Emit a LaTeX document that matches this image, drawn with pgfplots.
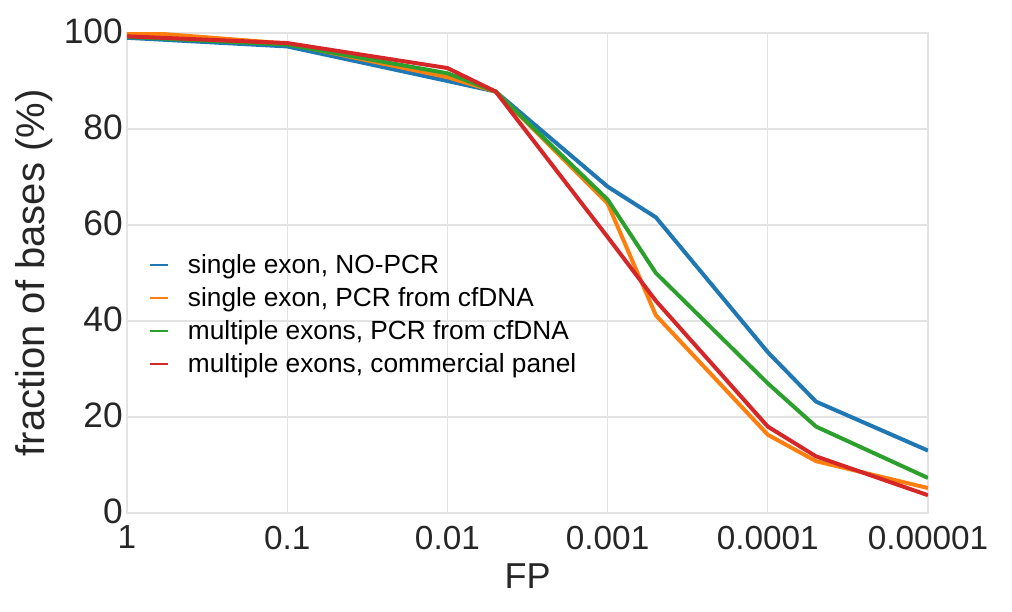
\documentclass[border=0pt]{standalone}
\usepackage{pgfplots}
\pgfplotsset{compat=1.18}
\usepackage{fontspec}
\setmainfont{Liberation Sans}
\definecolor{tabblue}{HTML}{1F77B4}
\definecolor{taborange}{HTML}{FF7F0E}
\definecolor{tabgreen}{HTML}{2CA02C}
\definecolor{tabred}{HTML}{D62728}
\begin{document}
\begin{tikzpicture}
\begin{axis}[
  name=main,
  scale only axis,
  width=600.75pt, height=360pt,
  xmode=log, x dir=reverse,
  xmin=0.00001, xmax=1,
  ymin=0, ymax=100,
  xtick={1,0.1,0.01,0.001,0.0001,0.00001},
  xticklabels={1,0.1,0.01,0.001,0.0001,0.00001},
  ytick={0,20,40,60,80,100},
  /pgf/number format/assume math mode=true,
  tick style={draw=none},
  grid=major,
  grid style={gray!22, line width=0.8pt},
  axis line style={gray!22, line width=0.8pt},
  xticklabel style={font=\fontsize{25}{30}\selectfont, text=black!85,
    inner sep=1pt, yshift=-8.5pt},
  yticklabel style={font=\fontsize{26.5}{31}\selectfont, text=black!85,
    inner sep=1pt, xshift=-2pt, yshift=1pt},
  xlabel={FP},
  ylabel={fraction of bases (\%)},
  xlabel style={font=\fontsize{27}{32}\selectfont, text=black!85, yshift=-6pt},
  ylabel style={font=\fontsize{30}{36}\selectfont, text=black!85, yshift=4pt},
  legend style={draw=none, fill=none, at={(0.022,0.55)}, anchor=north west,
    font=\fontsize{19.7}{24}\selectfont, row sep=5pt,
    legend cell align=left},
  legend image code/.code={\draw[#1, line width=1.6pt] (0pt,0pt) -- (13.5pt,0pt);
    \path (25pt,0pt);},
  every axis plot/.append style={line width=3pt, line join=round},
]
\addplot[tabblue] coordinates {
  (1,99.0) (0.1,97.2) (0.01,90.0) (0.005,87.8) (0.001,68.0)
  (0.0005,61.6) (0.0001,33.5) (0.00005,23.2) (0.00001,13.0)};
\addlegendentry{single exon, NO-PCR}
\addplot[taborange] coordinates {
  (1,99.8) (0.6,99.8) (0.1,97.8) (0.01,90.8) (0.005,87.8) (0.001,64.5)
  (0.0005,41.2) (0.0001,16.3) (0.00005,10.8) (0.00001,5.2)};
\addlegendentry{single exon, PCR from cfDNA}
\addplot[tabgreen] coordinates {
  (1,99.2) (0.1,97.6) (0.01,91.6) (0.005,87.8) (0.001,65.3)
  (0.0005,50.0) (0.0001,27.0) (0.00005,18.0) (0.00001,7.3)};
\addlegendentry{multiple exons, PCR from cfDNA}
\addplot[tabred] coordinates {
  (1,99.3) (0.1,97.9) (0.01,92.7) (0.005,87.8) (0.001,57.5)
  (0.0005,44.2) (0.0001,18.0) (0.00005,11.8) (0.00001,3.7)};
\addlegendentry{multiple exons, commercial panel}
\end{axis}
\pgfresetboundingbox
\path ([xshift=-95.25pt,yshift=-74.25pt]main.south west) rectangle ([xshift=63pt,yshift=24.75pt]main.north east);
\end{tikzpicture}
\end{document}
